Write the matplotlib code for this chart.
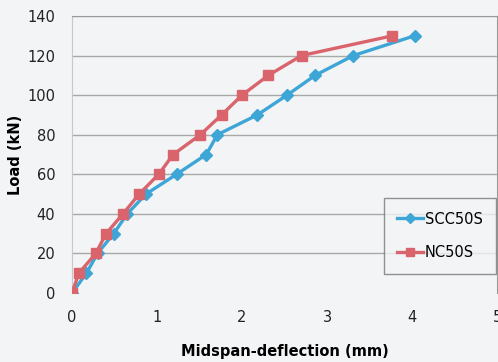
import matplotlib.pyplot as plt

# values
scc_defl = [0, 0.17, 0.30, 0.49, 0.65, 0.87, 1.23, 1.58, 1.71, 2.18, 2.53, 2.86, 3.31, 4.03]
scc_load = [0, 10, 20, 30, 40, 50, 60, 70, 80, 90, 100, 110, 120, 130]
nc_defl = [0, 0.08, 0.28, 0.40, 0.60, 0.79, 1.02, 1.19, 1.51, 1.76, 2.00, 2.31, 2.70, 3.77]
nc_load = [0, 10, 20, 30, 40, 50, 60, 70, 80, 90, 100, 110, 120, 130]
y_ticks = [0, 20, 40, 60, 80, 100, 120, 140]
x_ticks = [0, 1, 2, 3, 4, 5]

plt.rcParams['font.family'] = ['Liberation Sans Narrow', 'DejaVu Sans']

fig = plt.figure(figsize=(4.98, 3.62), dpi=100, facecolor='#f3f4f5')
ax = fig.add_axes([0.1446, 0.1906, 0.8534, 0.7652])
ax.set_facecolor('#f3f4f5')

# horizontal gridlines like the Excel original
for y in y_ticks[1:]:
    ax.axhline(y, color='#a8a8a8', lw=1.0, zorder=1)

ax.plot(scc_defl, scc_load, color='#3ea6d6', lw=2.4, marker='D', ms=6.5,
        label='SCC50S', zorder=3)
ax.plot(nc_defl, nc_load, color='#d9646c', lw=2.4, marker='s', ms=6.5,
        label='NC50S', zorder=4)

ax.set_xlim(0, 5)
ax.set_ylim(0, 140)
ax.set_xticks(x_ticks)
ax.set_yticks(y_ticks)
ax.tick_params(length=0, labelsize=10.5, colors='#222222')
ax.tick_params(axis='y', pad=12)
ax.tick_params(axis='x', pad=12)

ax.spines['bottom'].set_visible(False)
ax.spines['left'].set_color('#c8c8c8')
ax.spines['top'].set_color('#9a9a9a')
ax.spines['right'].set_color('#9a9a9a')

ax.set_xlabel('Midspan-deflection (mm)', fontsize=10.5, fontweight='bold',
              family=['DejaVu Sans'], labelpad=14)
ax.set_ylabel('Load (kN)', fontsize=10.5, fontweight='bold',
              family=['DejaVu Sans'], labelpad=3)

leg = ax.legend(loc='lower right', bbox_to_anchor=(0.997, 0.07), fontsize=10.5,
                frameon=True, fancybox=False, handlelength=1.8, markerscale=0.8,
                borderpad=0.9, labelspacing=1.3, handletextpad=0.1,
                borderaxespad=0)
leg.get_frame().set_edgecolor('#777777')
leg.get_frame().set_facecolor('#f3f4f5')
leg.get_frame().set_linewidth(1.0)

fig.savefig('out.png', dpi=100, facecolor=fig.get_facecolor())
